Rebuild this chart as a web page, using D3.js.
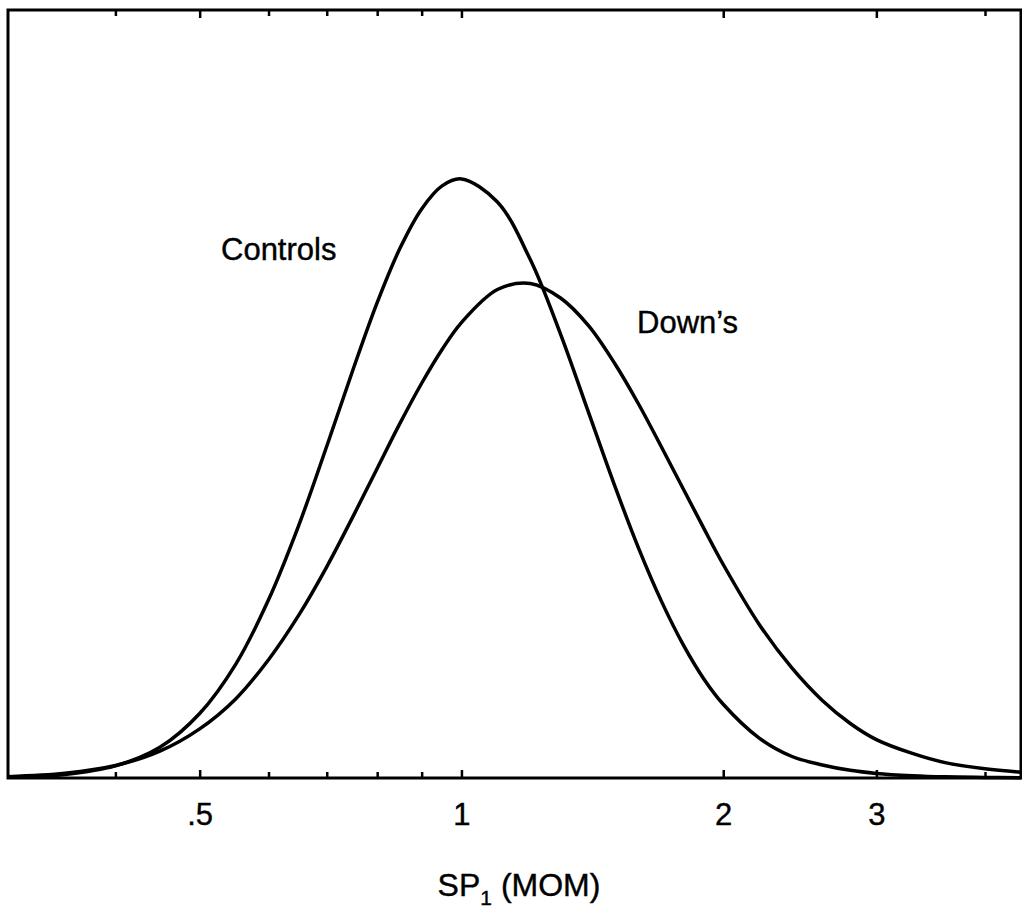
<!DOCTYPE html>
<html lang="en">
<head>
    <meta charset="UTF-8">
    <title>SP1 distributions</title>
    <script src="https://cdn.jsdelivr.net/npm/d3@7"></script>
    <style>
        body { margin: 0; background: #fff; }
        text { font-family: "Liberation Sans", Arial, Helvetica, sans-serif; fill: #000; stroke: #000; stroke-width: 0.4px; }
    </style>
</head>
<body>
<svg width="1022" height="912"></svg>

<script>

    // SP1 level (MoM) at which the curves were read, shared by both series
    var mom = [0.30, 0.35, 0.40, 0.45, 0.50, 0.55, 0.60, 0.65, 0.70, 0.75, 0.80, 0.85, 0.90, 0.95, 1.0,
        1.1, 1.2, 1.3, 1.4, 1.5, 1.6, 1.7, 1.8, 1.9, 2.0, 2.2, 2.4, 2.6, 2.8, 3.0, 3.3, 3.6, 4.0, 4.4];

    // curve heights (relative frequency, 0-100 of the frame height)
    var controls = [0.1, 0.47, 1.58, 4.0, 8.4, 14.8, 23.2, 32.9, 43.2, 53.1, 61.9, 69.0, 74.1, 77.1, 78.0,
        75.0, 67.5, 57.8, 47.6, 38.1, 29.8, 22.9, 17.3, 12.9, 9.6, 5.2, 2.8, 1.7, 1.0, 0.6, 0.3, 0.15, 0.08, 0.04];
    var downs = [0.17, 0.61, 1.62, 3.5, 6.4, 10.3, 15.4, 21.2, 27.5, 34.0, 40.3, 46.2, 51.4, 55.8, 59.3,
        63.6, 64.4, 62.5, 58.9, 54.0, 48.6, 43.0, 37.6, 32.5, 27.8, 20.0, 14.3, 10.1, 7.1, 5.0, 3.2, 2.0, 1.2, 0.75];

    var majorTicks = [0.5, 1, 2, 3];
    var majorLabels = [".5", "1", "2", "3"];
    var minorTicks = [0.4, 0.6, 0.7, 0.8, 0.9, 4];

    var svg = d3.select("svg");

    var x = d3.scaleLog().domain([0.301, 4.40]).range([8, 1021]);
    var y = d3.scaleLinear().domain([0, 100]).range([778, 10]);

    var line = d3.line()
        .x(function (d) { return x(d[0]); })
        .y(function (d) { return y(d[1]); })
        .curve(d3.curveCatmullRom.alpha(0.5));

    function pairs(xs, ys) {
        return xs.map(function (v, i) { return [Math.max(v, 0.301), ys[i]]; });
    }

    // curves
    [controls, downs].forEach(function (series) {
        svg.append("path")
            .datum(pairs(mom, series))
            .attr("d", line)
            .attr("fill", "none")
            .attr("stroke", "#000")
            .attr("stroke-width", 3.5);
    });

    // bottom axis: major ticks with labels, minor ticks without
    var bottomMajor = svg.append("g")
        .attr("transform", "translate(0,778)")
        .call(d3.axisBottom(x)
            .tickValues(majorTicks)
            .tickSize(-8)
            .tickPadding(25)
            .tickFormat(function (d, i) { return majorLabels[i]; }));

    var bottomMinor = svg.append("g")
        .attr("transform", "translate(0,778)")
        .call(d3.axisBottom(x).tickValues(minorTicks).tickSize(-6).tickFormat(""));

    // top axis (ticks only)
    var topMajor = svg.append("g")
        .attr("transform", "translate(0,10)")
        .call(d3.axisTop(x).tickValues(majorTicks).tickSize(-8).tickFormat(""));

    var topMinor = svg.append("g")
        .attr("transform", "translate(0,10)")
        .call(d3.axisTop(x).tickValues(minorTicks).tickSize(-6).tickFormat(""));

    [bottomMajor, bottomMinor, topMajor, topMinor].forEach(function (g) {
        g.select(".domain").remove();
        g.selectAll(".tick line").attr("stroke", "#000").attr("stroke-width", 2.5);
    });

    bottomMajor.selectAll(".tick text")
        .attr("font-size", 31)
        .attr("fill", "#000")
        .style("font-family", "'Liberation Sans', Arial, Helvetica, sans-serif");

    // frame
    svg.append("rect")
        .attr("x", x.range()[0])
        .attr("y", y.range()[1])
        .attr("width", x.range()[1] - x.range()[0])
        .attr("height", y.range()[0] - y.range()[1])
        .attr("fill", "none")
        .attr("stroke", "#000")
        .attr("stroke-width", 3);

    // curve labels
    svg.append("text")
        .attr("x", 221)
        .attr("y", 260)
        .attr("font-size", 31)
        .text("Controls");

    svg.append("text")
        .attr("x", 637)
        .attr("y", 333)
        .attr("font-size", 31)
        .text("Down\u2019s");

    // x axis title
    var title = svg.append("text")
        .attr("x", 519)
        .attr("y", 896)
        .attr("text-anchor", "middle")
        .attr("font-size", 32);
    title.append("tspan").text("SP");
    title.append("tspan").attr("font-size", 21).attr("dy", 9).text("1");
    title.append("tspan").attr("dy", -9).text(" (MOM)");

</script>

</body>
</html>
